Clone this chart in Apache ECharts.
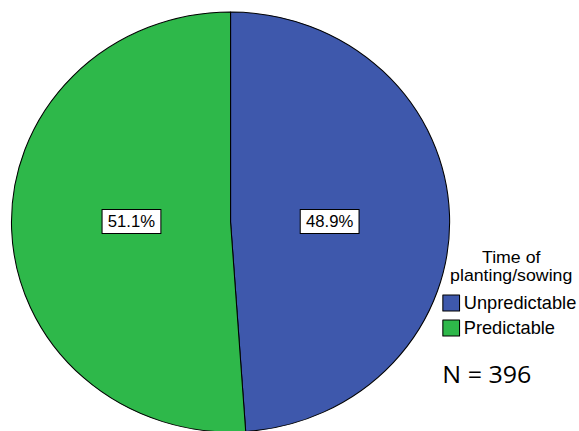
<!DOCTYPE html>
<html>
<head>
<meta charset="utf-8">
<script src="https://cdn.jsdelivr.net/npm/echarts@6/dist/echarts.min.js"></script>
<style>
  html, body { margin: 0; padding: 0; background: #fff; overflow: hidden; }
  #wrap { width: 579px; height: 431px; overflow: hidden; }
  /* the chart is drawn at 555px and stretched to the full width, giving the oval pie */
  #chart { width: 555px; height: 431px; transform: scaleX(1.04324); transform-origin: 0 0; }
</style>
</head>
<body>
<div id="wrap"><div id="chart"></div></div>
<script>
// Time of planting/sowing, share of respondents (%)
const categories = ['Unpredictable', 'Predictable'];
const percentages = [48.9, 51.1];
const colors = ['#3E58AC', '#2EB84A'];
const legendTitle = 'Time of\nplanting/sowing';
const sampleNote = 'N = 396';

const PIE_CX = 221;
const PIE_CY = 222;

const chart = echarts.init(document.getElementById('chart'), null, { renderer: 'svg' });

chart.setOption({
  animation: false,
  color: colors,
  legend: {
    orient: 'vertical',
    left: 424,
    top: 294,
    padding: 0,
    itemGap: 7,
    itemWidth: 16,
    itemHeight: 16,
    icon: 'rect',
    data: categories,
    itemStyle: { borderColor: '#000', borderWidth: 1 },
    textStyle: { fontFamily: 'Liberation Sans, Arial, sans-serif', fontSize: 17.5, color: '#000', padding: [0, 0, 0, -1] }
  },
  graphic: [
    {
      type: 'text',
      x: 490,
      y: 248,
      style: {
        text: legendTitle,
        textAlign: 'center',
        textVerticalAlign: 'top',
        fontFamily: 'Liberation Sans, Arial, sans-serif',
        fontSize: 17,
        lineHeight: 18,
        fill: '#000'
      }
    },
    {
      type: 'text',
      x: 424,
      y: 374,
      style: {
        text: sampleNote,
        textAlign: 'left',
        textVerticalAlign: 'middle',
        fontFamily: 'Open Sans, Noto Sans, sans-serif',
        fontSize: 24,
        fill: '#000'
      }
    }
  ],
  series: [
    {
      type: 'pie',
      center: [PIE_CX, PIE_CY],
      radius: 210,
      startAngle: 90,
      clockwise: true,
      silent: true,
      data: categories.map((name, i) => ({ name, value: percentages[i] })),
      itemStyle: { borderColor: '#000', borderWidth: 1 },
      labelLine: { show: false },
      label: {
        show: true,
        position: 'inside',
        formatter: (p) => p.value.toFixed(1) + '%',
        fontFamily: 'Liberation Sans, Arial, sans-serif',
        fontSize: 16,
        color: '#000',
        backgroundColor: '#fff',
        borderColor: '#000',
        borderWidth: 1,
        padding: [4, 5, 3, 5]
      },
      // pull the value boxes toward the centre and onto the centre line
      labelLayout: function (params) {
        const r = params.labelRect;
        const lx = r.x + r.width / 2;
        const ly = r.y + r.height / 2;
        return { dx: (PIE_CX - lx) * 0.12, dy: PIE_CY - 0.5 - ly };
      }
    }
  ]
});
</script>
</body>
</html>
